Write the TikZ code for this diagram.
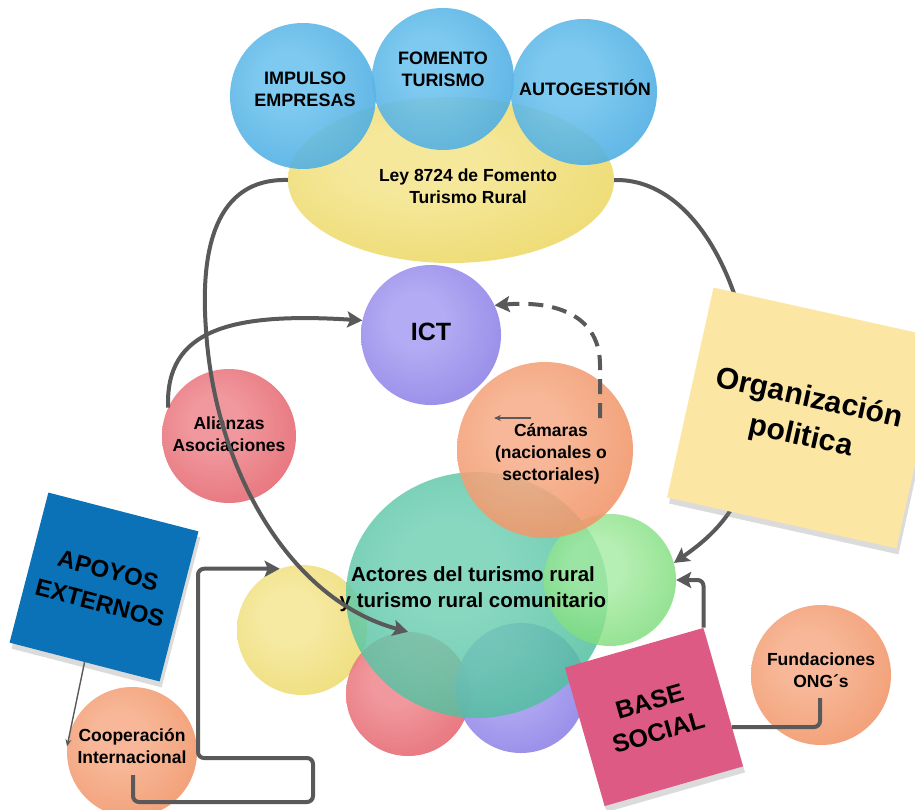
\documentclass[tikz,border=0pt]{standalone}
\usepackage{fontspec}
\setmainfont{Liberation Sans}
\usetikzlibrary{arrows.meta,shapes.geometric,shadows,calc}

\definecolor{lineg}{HTML}{595959}
\definecolor{blueE}{HTML}{2795D5}
\definecolor{blueC}{HTML}{6CC2EE}
\definecolor{yelE}{HTML}{E6CE44}
\definecolor{yelC}{HTML}{F5E796}
\definecolor{purE}{HTML}{6C5CDA}
\definecolor{purC}{HTML}{A9A0F2}
\definecolor{redE}{HTML}{DA3C49}
\definecolor{redC}{HTML}{EF8A90}
\definecolor{oraE}{HTML}{EC7840}
\definecolor{oraC}{HTML}{F6AE8A}
\definecolor{tealE}{HTML}{28AA82}
\definecolor{tealC}{HTML}{72D1B5}
\definecolor{greE}{HTML}{48C948}
\definecolor{greC}{HTML}{A4EBA0}
\definecolor{orgY}{HTML}{FCE6A4}
\definecolor{apoB}{HTML}{0B72B8}
\definecolor{baseP}{HTML}{DD5A84}

\colorlet{bubin}{white}
\colorlet{bubout}{gray}
\pgfdeclareradialshading[bubin,bubout]{bubble}{\pgfpoint{-6bp}{6bp}}{color(0bp)=(bubin);color(10bp)=(bubin);color(54bp)=(bubout);color(75bp)=(bubout)}

\tikzset{
  bub/.style n args={2}{circle, inner sep=0pt, draw=none,
    /utils/exec={\colorlet{bubin}{#1}\colorlet{bubout}{#2}},
    shade, shading=bubble, fill opacity=0.88},
  lbl/.style={font=\bfseries\fontsize{17.5}{22}\selectfont, align=center, text=black, inner sep=0pt},
  caps/.style={font=\bfseries\fontsize{18}{22}\selectfont},
  note/.style={draw=none, inner sep=0pt, align=center, text=black,
    drop shadow={opacity=0.28, shadow xshift=2pt, shadow yshift=-6pt}},
  conn/.style={draw=lineg, line width=4pt, -{Stealth[length=15pt,width=16pt,inset=3pt]}},
  plainline/.style={draw=lineg, line width=4pt},
  thinconn/.style={draw=lineg, line width=1.4pt, -{Stealth[length=7pt,width=6pt]}},
}

\begin{document}
\begin{tikzpicture}[x=1pt,y=-1pt]
\useasboundingbox (0,0) rectangle (915,809);
\clip (0,0) rectangle (915,809);
\fill[white] (0,0) rectangle (915,809);

% top cluster
\node[bub={yelC}{yelE}, ellipse, minimum width=326pt, minimum height=166pt, fill opacity=0.95] (ley) at (451,180) {};
\node[bub={blueC}{blueE}, minimum size=146pt] (impulso) at (303,96) {};
\node[bub={blueC}{blueE}, minimum size=142pt] (fomento) at (443,79) {};
\node[bub={blueC}{blueE}, minimum size=146pt] (autog) at (584,92) {};

% middle
\node[bub={purC}{purE}, minimum size=140pt] (ict) at (431,335) {};
\node[bub={redC}{redE}, minimum size=134pt] (alianzas) at (229,436) {};

% central cluster
\node[bub={yelC}{yelE}, minimum size=130pt] (yel) at (302,630) {};
\node[bub={redC}{redE}, minimum size=124pt] (redb) at (408,694) {};
\node[bub={purC}{purE}, minimum size=130pt] (purb) at (521,688) {};
\node[bub={tealC}{tealE}, ellipse, minimum width=262pt, minimum height=246pt, fill opacity=0.84] (actores) at (477,595) {};
\node[bub={greC}{greE}, minimum size=132pt, fill opacity=0.8] (green) at (610,580) {};
\node[bub={oraC}{oraE}, minimum size=176pt, fill opacity=0.88] (camaras) at (545,450) {};

\node[bub={oraC}{oraE}, minimum size=140pt] (fund) at (821,675) {};
\node[bub={oraC}{oraE}, minimum size=130pt] (coop) at (132,752) {};

% texts
\node[lbl, caps] (tImp) at (305,89) {IMPULSO\\EMPRESAS};
\node[lbl, caps] (tFom) at (443,69) {FOMENTO\\TURISMO};
\node[lbl, caps] (tAut) at (585,88) {AUTOGESTIÓN};
\node[lbl] (tLey) at (468,186) {Ley 8724 de Fomento\\Turismo Rural};
\node[lbl, font=\bfseries\fontsize{25}{30}\selectfont] (tIct) at (431,332) {ICT};
\node[lbl] (tAli) at (229,434) {Alianzas\\Asociaciones};
\node[lbl] (tCam) at (551,454) {Cámaras\\(nacionales o\\sectoriales)};
\node[lbl, font=\bfseries\fontsize{20.5}{26}\selectfont] (tAct) at (473,589) {Actores del turismo rural\\y turismo rural comunitario};
\node[lbl] (tFun) at (821,670) {Fundaciones\\ONG´s};
\node[lbl] (tCoop) at (132,746) {Cooperación\\Internacional};

% sticky notes referenced by connectors
\node[note, fill=apoB, minimum width=155pt, minimum height=155pt, rotate=-14.5,
      font=\bfseries\fontsize{24}{34}\selectfont] (apoyos) at (104,587) {APOYOS\\EXTERNOS};
\node[note, fill=baseP, minimum width=144pt, minimum height=144pt, rotate=16,
      font=\bfseries\fontsize{25}{32}\selectfont] (base) at (654,717) {BASE\\SOCIAL};

% helper coordinates
\coordinate (camOut) at (600,418);
\coordinate (camA) at (531,418);
\coordinate (camB) at (494,418);
\coordinate (coopOut) at (133,775);
\coordinate (cA) at (313,802);
\coordinate (cB) at (198,758);
\coordinate (fundOut) at (820,698);
\coordinate (baseIn) at (732,727);

% connectors
\draw[conn] (ley.west) .. controls (215,178) and (200,250) .. (206,330)
            .. controls (215,470) and (290,600) .. (redb.north);
\draw[conn] (ley.east) .. controls (700,178) and (755,300) .. (755,420)
            .. controls (755,500) and (714,535) .. (green.15);
\draw[conn] (alianzas.155) .. controls (165,330) and (230,312) .. (ict.168);
\draw[conn, dash pattern=on 15pt off 9pt] (camOut) -- (600,365)
            .. controls (600,318) and (560,300) .. (ict.25);
\draw[thinconn] (camA) -- (camB);
\draw[thinconn] (apoyos.south) -- (coop.175);
\draw[conn, rounded corners=6pt] (coopOut) |- (cA) |- (cB) |- (yel.110);
\draw[plainline, rounded corners=6pt] (fundOut) |- (baseIn);
\draw[conn, rounded corners=6pt] (base.north east) |- (green.east);

% note drawn over the connector
\node[note, fill=orgY, minimum width=235pt, minimum height=215pt, rotate=-12.5,
      font=\bfseries\fontsize{30}{39}\selectfont] (org) at (805,418) {Organización\\politica};
\end{tikzpicture}
\end{document}
